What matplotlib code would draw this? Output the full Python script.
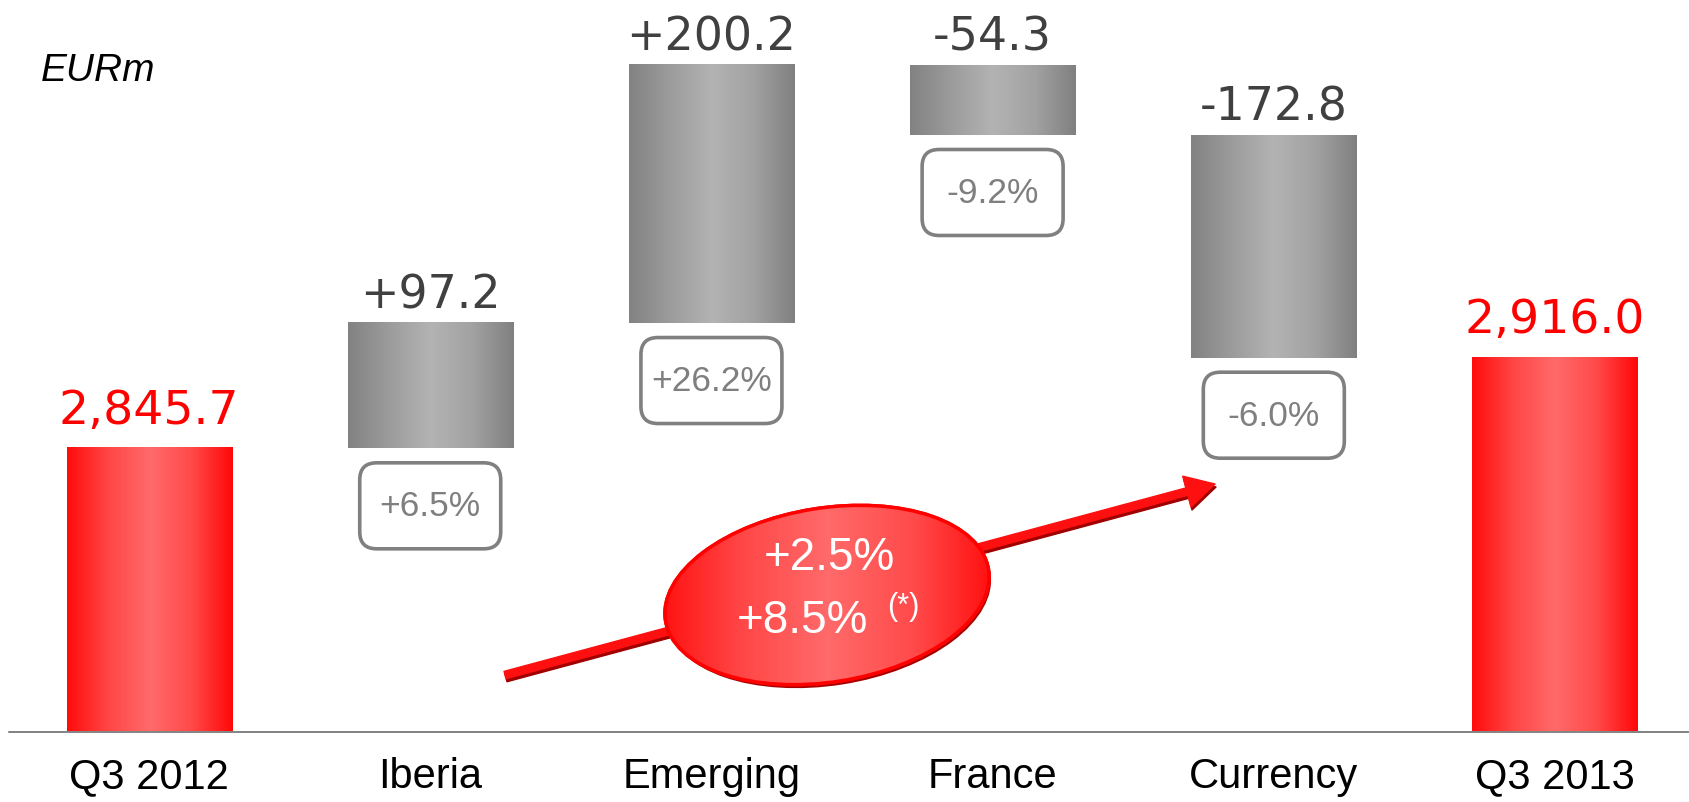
import numpy as np
import matplotlib
matplotlib.use("Agg")
import matplotlib.pyplot as plt
import matplotlib.patches as mpatches
import matplotlib.transforms as mtransforms
from matplotlib.colors import LinearSegmentedColormap

categories = ["Q3 2012", "Iberia", "Emerging", "France", "Currency", "Q3 2013"]
start_value = 2845.7
changes = [97.2, 200.2, -54.3, -172.8]
end_value = 2916.0
change_pct = ["+6.5%", "+26.2%", "-9.2%", "-6.0%"]
growth_lines = ["+2.5%", "+8.5%"]
growth_note = "(*)"

# waterfall: running level after each step
levels = start_value + np.cumsum([0] + changes)
heights = [start_value] + changes + [end_value]
bottoms = [0] + list(levels[:-1]) + [0]
totals = [0, len(categories) - 1]

fig = plt.figure(figsize=(16.89, 8.03), dpi=100)
fig.patch.set_facecolor("white")
ax = fig.add_axes([9 / 1689, 70.5 / 803, 1 - 9 / 1689, 1 - 70.5 / 803])

x = np.arange(len(categories))
bars = ax.bar(x, heights, bottom=bottoms, width=0.587, color="none",
              edgecolor="none", zorder=2)

gray_cmap = LinearSegmentedColormap.from_list(
    "gray_bar", ["#828282", "#9c9c9c", "#b3b3b3", "#a2a2a2", "#808080"])
red_cmap = LinearSegmentedColormap.from_list(
    "red_bar", ["#ff0c0c", "#ff4646", "#ff6a6a", "#ff4a4a", "#ff0808"])
shade = np.linspace(0, 1, 256).reshape(1, -1)

for i, b in enumerate(bars):
    x0, w = b.get_x(), b.get_width()
    y0, y1 = b.get_y(), b.get_y() + b.get_height()
    cmap = red_cmap if i in totals else gray_cmap
    ax.imshow(shade, extent=(x0, x0 + w, min(y0, y1), max(y0, y1)),
              cmap=cmap, aspect="auto", interpolation="bicubic", zorder=2)

# value labels on top of bars
for i in range(len(categories)):
    top = max(bottoms[i], bottoms[i] + heights[i])
    if i in totals:
        txt, col, off, fs = f"{heights[i]:,.1f}", "#ff0000", 18.5, 34
    else:
        txt, col, off, fs = f"{heights[i]:+.1f}", "#404040", 11.5, 33
    ax.annotate(txt, xy=(x[i], top), xytext=(0, off), textcoords="offset points",
                ha="center", va="baseline", fontsize=fs, color=col,
                family="DejaVu Sans")

# rounded percentage boxes under the change bars
for k, pct in enumerate(change_pct):
    j = k + 1
    low = min(bottoms[j], bottoms[j] + heights[j])
    anchor = mtransforms.ScaledTranslation(x[j], low, ax.transData)
    box = mpatches.FancyBboxPatch(
        (-0.705, -0.145 - 0.86), 1.41, 0.86,
        boxstyle="round,pad=0,rounding_size=0.17",
        transform=fig.dpi_scale_trans + anchor,
        facecolor="white", edgecolor="#808080", linewidth=2.6, zorder=3)
    ax.add_patch(box)
    ax.annotate(pct, xy=(x[j], low), xytext=(0, -0.575 * 72),
                textcoords="offset points", ha="center", va="center",
                fontsize=25.5, color="#7f7f7f", family="Liberation Sans", zorder=4)

# trend arrow with a dark drop shadow
tail = (1.266, 2669.8)
tip = (3.791, 2818.0)
arrow_style = mpatches.ArrowStyle.Simple(head_length=21, head_width=23, tail_width=5.5)
shadow_off = mtransforms.ScaledTranslation(0.01, -0.03, fig.dpi_scale_trans)
ax.add_patch(mpatches.FancyArrowPatch(tail, tip, arrowstyle=arrow_style,
                                      transform=ax.transData + shadow_off,
                                      color="#a00000", shrinkA=0, shrinkB=0,
                                      mutation_scale=1, zorder=5))
ax.add_patch(mpatches.FancyArrowPatch(tail, tip, arrowstyle=arrow_style,
                                      color="#ff1010", shrinkA=0, shrinkB=0,
                                      mutation_scale=1, zorder=5))

# growth ellipse
centre = (2.411, 2731.9)
e_anchor = mtransforms.ScaledTranslation(centre[0], centre[1], ax.transData)
e_shadow = mpatches.Ellipse((0.02, -0.035), 3.27, 1.74, angle=9,
                            transform=fig.dpi_scale_trans + e_anchor,
                            facecolor="#a80000", edgecolor="none", zorder=6)
ax.add_patch(e_shadow)
ellipse = mpatches.Ellipse((0, 0), 3.27, 1.74, angle=9,
                           transform=fig.dpi_scale_trans + e_anchor,
                           facecolor="#ff3030", edgecolor="#ff0000",
                           linewidth=2.5, zorder=7)
ax.add_patch(ellipse)
grad = ax.imshow(shade, extent=(centre[0] - 0.62, centre[0] + 0.62,
                                centre[1] - 75, centre[1] + 75),
                 cmap=red_cmap, aspect="auto", interpolation="bicubic", zorder=7.5)
grad.set_clip_path(ellipse)
ellipse_ring = mpatches.Ellipse((0, 0), 3.27, 1.74, angle=9,
                                transform=fig.dpi_scale_trans + e_anchor,
                                facecolor="none", edgecolor="#ff0000",
                                linewidth=2.5, zorder=7.6)
ax.add_patch(ellipse_ring)

ax.annotate(growth_lines[0], xy=centre, xytext=(1.5, 18.7), textcoords="offset points",
            ha="center", va="baseline", fontsize=33, color="white",
            family="Liberation Sans", zorder=8)
ax.annotate(growth_lines[1], xy=centre, xytext=(-18, -26.6), textcoords="offset points",
            ha="center", va="baseline", fontsize=33, color="white",
            family="Liberation Sans", zorder=8)
ax.annotate(growth_note, xy=centre, xytext=(55, -8), textcoords="offset points",
            ha="center", va="center", fontsize=22, color="white",
            family="Liberation Sans", zorder=8)

ax.set_xlim(-0.498, 5.4765)
ax.set_ylim(2626, 3194.3)
ax.set_xticks(x, categories)
ax.set_yticks([])
ax.tick_params(axis="x", length=0, pad=18, labelsize=30)
for lab in ax.get_xticklabels():
    lab.set_family("Liberation Sans")
for side in ["top", "left", "right"]:
    ax.spines[side].set_visible(False)
ax.spines["bottom"].set_color("#606060")
ax.spines["bottom"].set_linewidth(1.1)
ax.set_facecolor("none")

fig.text(41 / 1689, 1 - 81 / 803, "EURm", fontsize=28, style="italic",
         family="Liberation Sans", va="baseline", ha="left")

fig.savefig("out.png", dpi=100)
